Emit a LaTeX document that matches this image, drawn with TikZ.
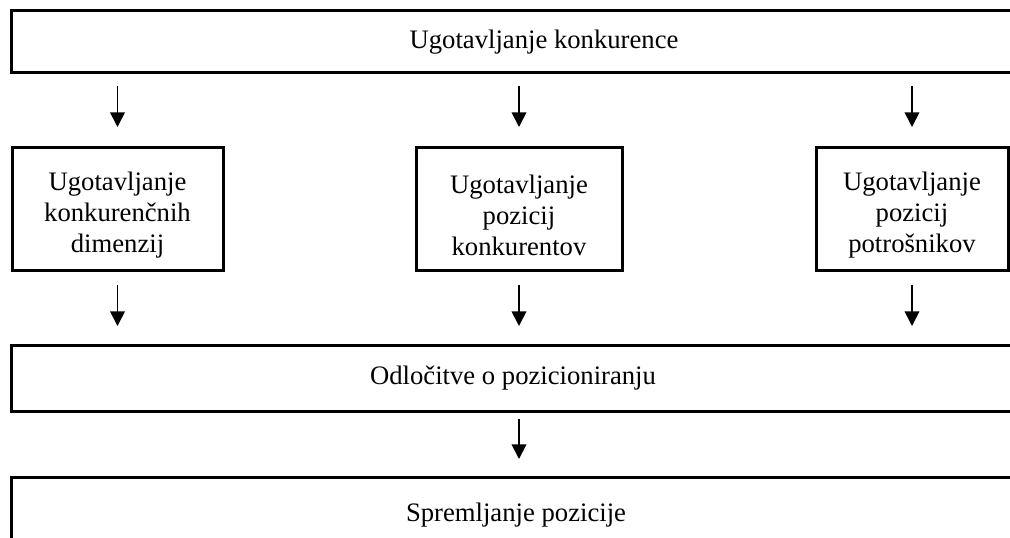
\documentclass[tikz,border=0pt]{standalone}
\usepackage{fontspec}
\setmainfont{Liberation Serif}
\usepackage{tikz}
\usetikzlibrary{arrows.meta}

\begin{document}
\begin{tikzpicture}[x=0.75pt,y=-0.75pt,
  wide/.style={draw,line width=2.25pt,outer sep=0pt,minimum width=753pt,minimum height=49.5pt},
  small/.style={draw,line width=2.25pt,outer sep=0pt,minimum height=92.25pt},
  arr/.style={line width=1.3pt,-{Triangle[width=11pt,length=11pt]}},
  every node/.style={font=\fontsize{20}{23.25}\selectfont}]
\clip (0,0) rectangle (1010,538);

\node[wide,minimum width=799.5pt,minimum height=46.5pt](top) at (544,42) {Ugotavljanje konkurence};
\node[small,minimum width=158.25pt](dim) at (117.5,209.5) {};
\node[small,minimum width=154.5pt](konk) at (519,209.5) {};
\node[small,minimum width=144pt](potr) at (912,209.5) {};
\node[align=center](dimtxt) at ([yshift=-4.5pt]dim) {Ugotavljanje\\konkurenčnih\\dimenzij};
\node[align=center](konktxt) at ([yshift=-4.5pt]konk) {Ugotavljanje\\pozicij\\konkurentov};
\node[align=center](potrtxt) at ([yshift=-4.5pt]potr) {Ugotavljanje\\pozicij\\potrošnikov};
\node[wide](odl) at (513,378) {Odločitve o pozicioniranju};
\node[wide,minimum width=757.5pt,minimum height=57pt](spr) at (516,515) {Spremljanje pozicije};

\path (top.south -| dim) edge [arr,shorten <=9.75pt,shorten >=15.75pt] (dim.north);
\path (top.south -| konk) edge [arr,shorten <=9.75pt,shorten >=15.75pt] (konk.north);
\path (top.south -| potr) edge [arr,shorten <=9.75pt,shorten >=15.75pt] (potr.north);
\path (dim.south) edge [arr,shorten <=10.5pt,shorten >=14.25pt] (odl.north -| dim);
\path (konk.south) edge [arr,shorten <=10.5pt,shorten >=14.25pt] (odl.north -| konk);
\path (potr.south) edge [arr,shorten <=10.5pt,shorten >=14.25pt] (odl.north -| potr);
\path (odl.south -| konk) edge [arr,shorten <=6pt,shorten >=13.5pt] (spr.north -| konk);
\end{tikzpicture}
\end{document}
